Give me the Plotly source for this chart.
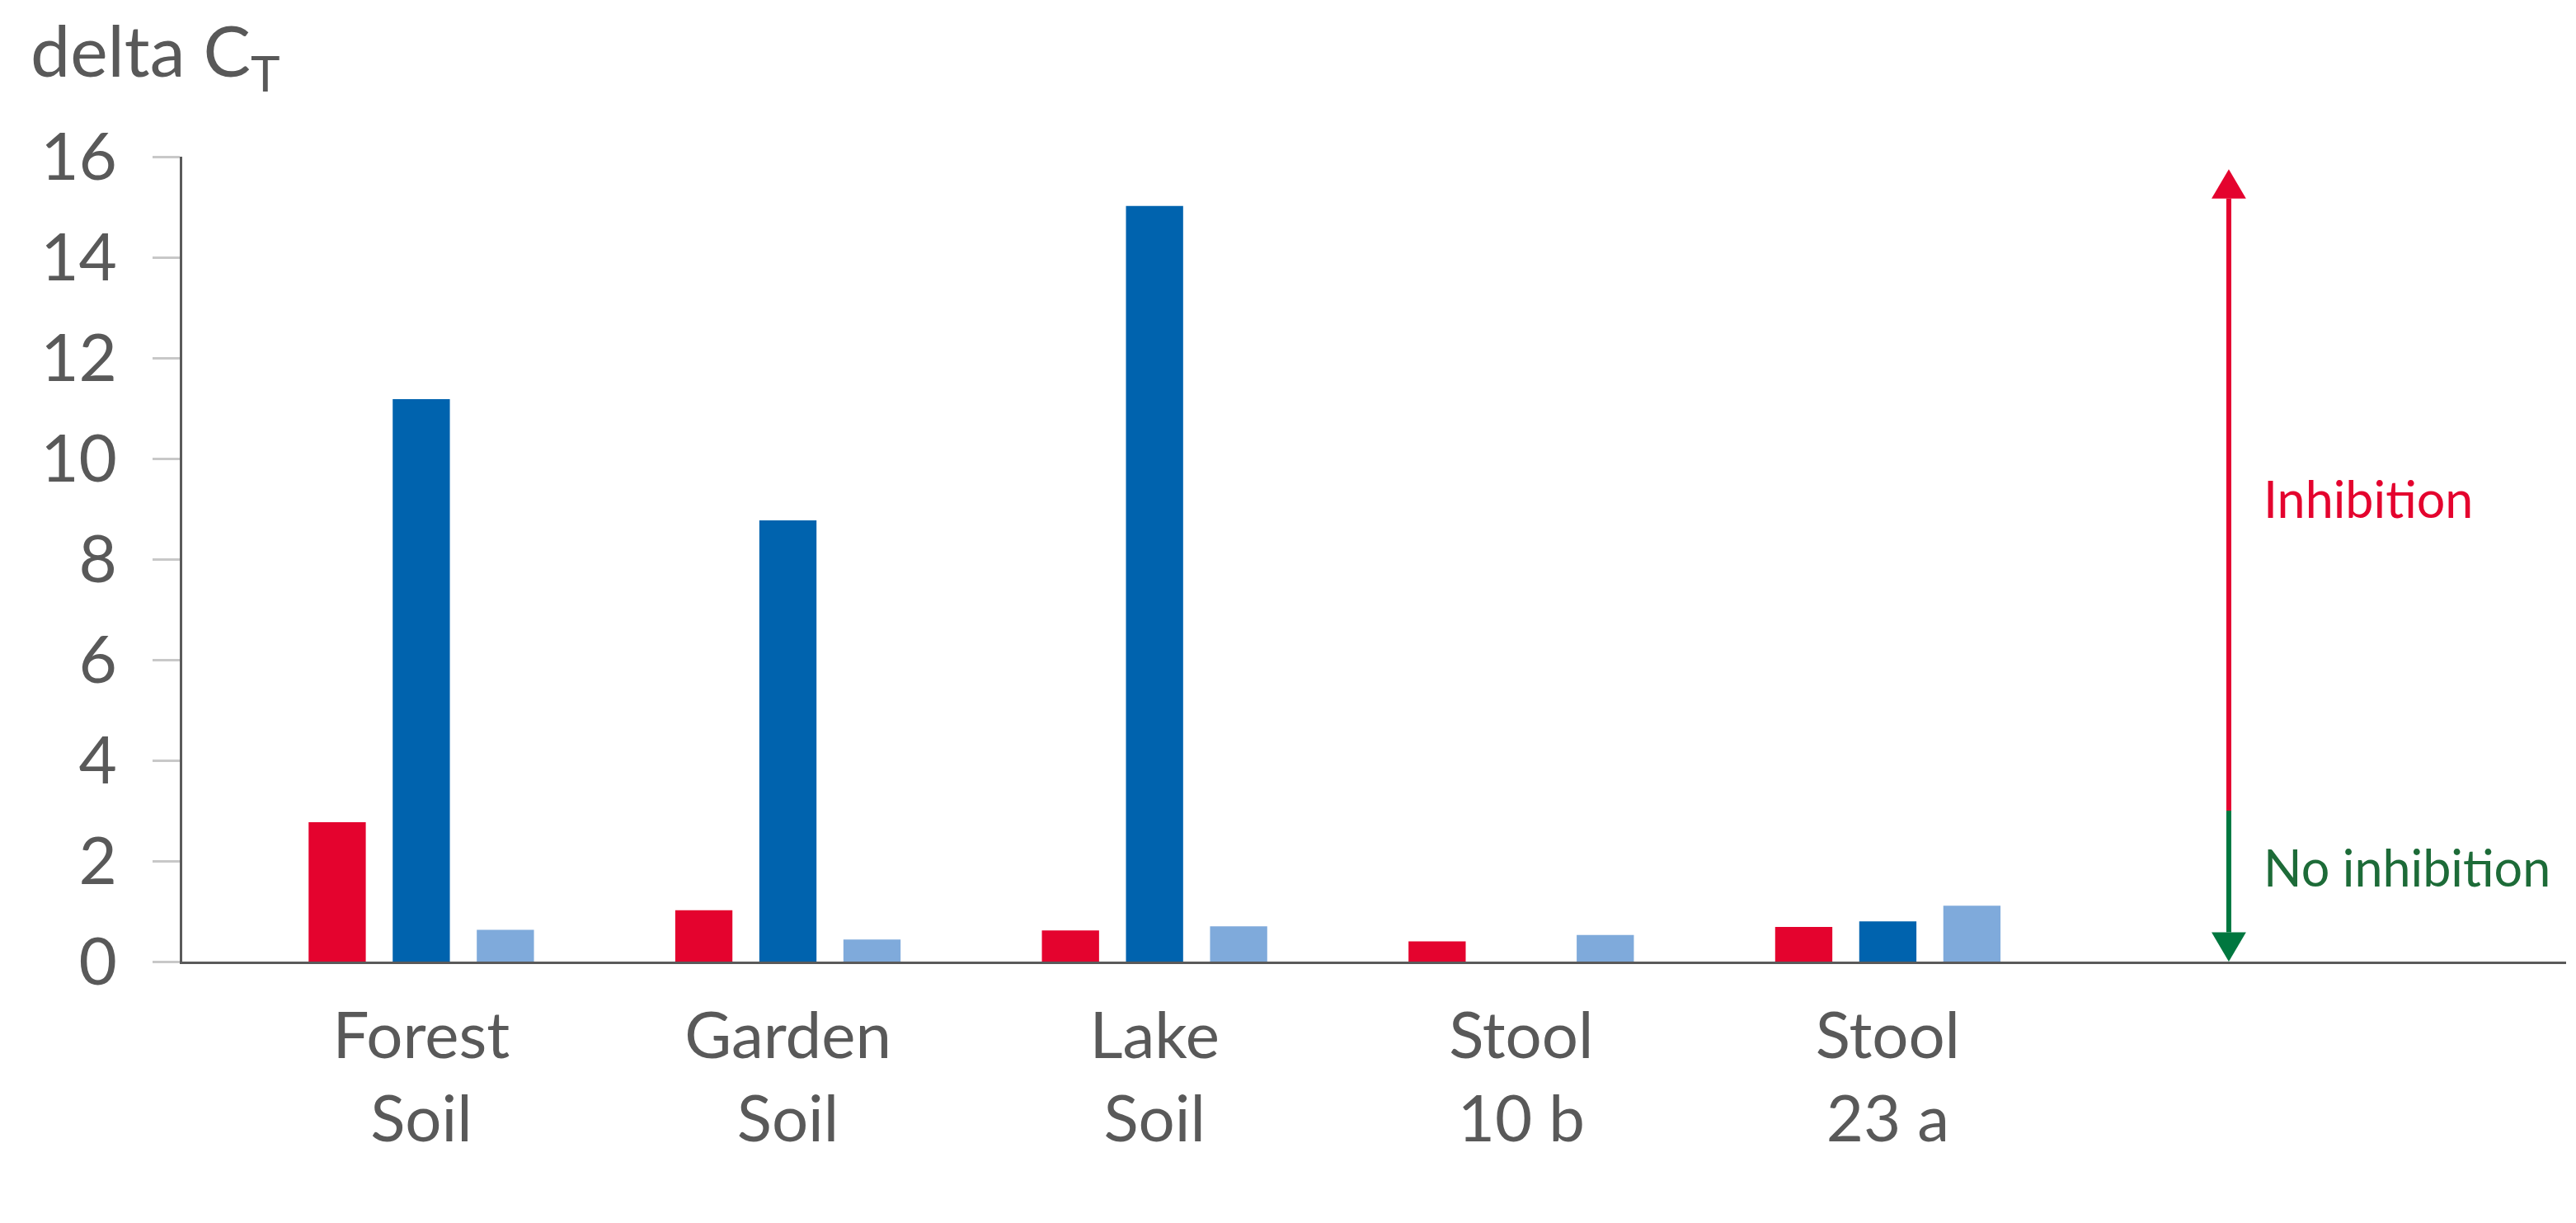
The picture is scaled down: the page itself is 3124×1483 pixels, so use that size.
import plotly.graph_objects as go

# Data
SAMPLES = ["Forest<br>Soil", "Garden<br>Soil", "Lake<br>Soil", "Stool<br>10 b", "Stool<br>23 a"]
SERIES_A = [2.77, 1.02, 0.62, 0.40, 0.69]     # red
SERIES_B = [11.18, 8.77, 15.02, None, 0.80]   # dark blue
SERIES_C = [0.63, 0.44, 0.70, 0.53, 1.11]     # light blue
Y_TICKS = [0, 2, 4, 6, 8, 10, 12, 14, 16]

# Inhibition arrow (data units)
ARROW_X = 4.93
ARROW_TOP = 15.75
ARROW_SPLIT = 3.0
HEAD_LEN = 0.58
HEAD_HALF = 0.047

COLORS = {
    'A': '#e4032e',
    'B': '#0063ae',
    'C': '#7faadb',
    'GREEN': '#00773f',
    'GREEN_TXT': '#1d6b38',
    'TEXT': '#595959',
    'AXIS': '#5a5a5a',
    'TICK': '#c8c8c8',
}
FONT = "Lato, sans-serif"

x_vals = list(range(len(SAMPLES)))

fig = go.Figure()
for name, vals, col in [("A", SERIES_A, COLORS['A']), ("B", SERIES_B, COLORS['B']), ("C", SERIES_C, COLORS['C'])]:
    fig.add_trace(go.Bar(x=x_vals, y=vals, name=name, marker_color=col, marker_line_width=0))

# arrow: shaft (red above split, green below) and two heads
shapes = [
    dict(type="line", x0=ARROW_X, x1=ARROW_X, y0=ARROW_SPLIT, y1=ARROW_TOP - HEAD_LEN,
         line=dict(color=COLORS['A'], width=6)),
    dict(type="line", x0=ARROW_X, x1=ARROW_X, y0=HEAD_LEN, y1=ARROW_SPLIT,
         line=dict(color=COLORS['GREEN'], width=6)),
    dict(type="path", fillcolor=COLORS['A'], line=dict(width=0),
         path=f"M {ARROW_X - HEAD_HALF},{ARROW_TOP - HEAD_LEN} L {ARROW_X + HEAD_HALF},{ARROW_TOP - HEAD_LEN} L {ARROW_X},{ARROW_TOP} Z"),
    dict(type="path", fillcolor=COLORS['GREEN'], line=dict(width=0),
         path=f"M {ARROW_X - HEAD_HALF},{HEAD_LEN} L {ARROW_X + HEAD_HALF},{HEAD_LEN} L {ARROW_X},0 Z"),
]

annotations = [
    dict(text="delta C<sub>T</sub>", xref="paper", yref="paper", x=-0.0645, y=1.127,
         xanchor="left", yanchor="middle", showarrow=False,
         font=dict(family=FONT, size=86, color=COLORS['TEXT'])),
    dict(text="Inhibition", xref="x", yref="y", x=ARROW_X + 0.09, y=9.2,
         xanchor="left", yanchor="middle", showarrow=False,
         font=dict(family=FONT, size=61, color=COLORS['A'])),
    dict(text="No inhibition", xref="x", yref="y", x=ARROW_X + 0.09, y=1.87,
         xanchor="left", yanchor="middle", showarrow=False,
         font=dict(family=FONT, size=61, color=COLORS['GREEN_TXT'])),
]

fig.update_layout(
    width=3116, height=1475,
    template="plotly_white",
    barmode="group",
    bargap=0.312,
    bargroupgap=0.32,
    showlegend=False,
    margin=dict(l=213, r=12, t=182, b=317),
    font=dict(family=FONT, size=78, color=COLORS['TEXT']),
    plot_bgcolor="white",
    paper_bgcolor="white",
    shapes=shapes,
    annotations=annotations,
)

fig.update_xaxes(range=[-0.652, 5.85], showgrid=False, zeroline=False,
                 tickvals=x_vals, ticktext=SAMPLES, ticks="", ticklabelstandoff=20,
                 tickfont=dict(family=FONT, size=78, color=COLORS['TEXT']),
                 showline=True, linecolor=COLORS['AXIS'], linewidth=3)
fig.update_yaxes(range=[0, 16], tickvals=Y_TICKS, showgrid=False, zeroline=False,
                 showline=True, linecolor=COLORS['AXIS'], linewidth=3,
                 ticks="outside", ticklen=33, tickwidth=3, tickcolor=COLORS['TICK'],
                 ticklabelstandoff=27,
                 tickfont=dict(family=FONT, size=80, color=COLORS['TEXT']))

fig.write_html("out.html")
